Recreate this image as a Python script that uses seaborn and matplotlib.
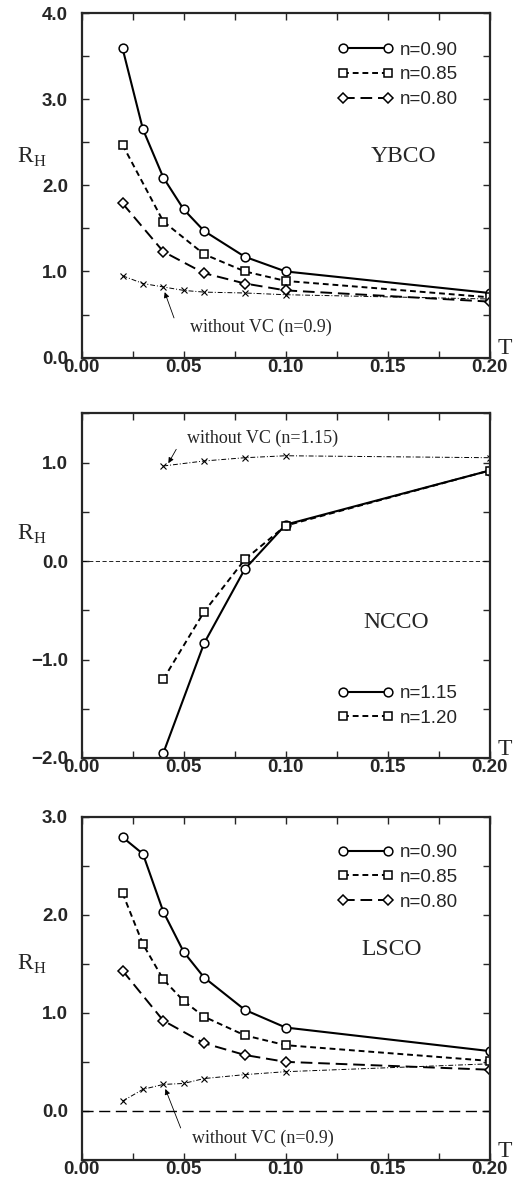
import numpy as np
import pandas as pd
import seaborn as sns
import matplotlib
matplotlib.use('Agg')
import matplotlib.pyplot as plt
from matplotlib.ticker import MultipleLocator, FuncFormatter

sns.set_style('ticks')
plt.rcParams['font.family'] = ['Liberation Sans', 'DejaVu Sans']

# YBCO
ybco_t8 = [0.02, 0.03, 0.04, 0.05, 0.06, 0.08, 0.10, 0.20]
ybco_t6 = [0.02, 0.04, 0.06, 0.08, 0.10, 0.20]
ybco_090 = [3.59, 2.65, 2.09, 1.72, 1.47, 1.17, 1.00, 0.75]
ybco_085 = [2.47, 1.58, 1.20, 1.00, 0.89, 0.70]
ybco_080 = [1.79, 1.23, 0.98, 0.86, 0.78, 0.65]
ybco_novc = [0.95, 0.86, 0.82, 0.78, 0.76, 0.75, 0.73, 0.68]

# NCCO
ncco_t = [0.04, 0.06, 0.08, 0.10, 0.20]
ncco_115 = [-1.95, -0.835, -0.08, 0.37, 0.92]
ncco_120 = [-1.20, -0.515, 0.017, 0.36, 0.92]
ncco_novc = [0.966, 1.017, 1.05, 1.07, 1.05]

# LSCO
lsco_t8 = [0.02, 0.03, 0.04, 0.05, 0.06, 0.08, 0.10, 0.20]
lsco_t6 = [0.02, 0.04, 0.06, 0.08, 0.10, 0.20]
lsco_090 = [2.79, 2.62, 2.03, 1.62, 1.36, 1.03, 0.85, 0.61]
lsco_085 = [2.22, 1.70, 1.34, 1.12, 0.96, 0.77, 0.67, 0.51]
lsco_080 = [1.43, 0.92, 0.69, 0.57, 0.50, 0.42]
lsco_novc = [0.10, 0.22, 0.27, 0.28, 0.33, 0.37, 0.40, 0.48]

fig = plt.figure(figsize=(5.31, 11.88), dpi=100)
ax1 = fig.add_axes([0.154, 0.699, 0.768, 0.290])
ax2 = fig.add_axes([0.154, 0.362, 0.768, 0.290])
ax3 = fig.add_axes([0.154, 0.0236, 0.768, 0.289])

styles = {
    'o': dict(marker='o', linestyle='-', lw=1.5, ms=6.3),
    's': dict(marker='s', linestyle=(0, (3, 2)), lw=1.4, ms=5.5),
    'D': dict(marker='D', linestyle=(0, (6, 3)), lw=1.4, ms=4.8),
    'x': dict(marker='x', linestyle=(0, (5, 2, 1, 2)), lw=0.7, ms=5),
}


def draw(ax, t, r, kind, label=None):
    st = styles[kind]
    sns.lineplot(x=t, y=r, ax=ax, color='black', marker=st['marker'],
                 linestyle=st['linestyle'], linewidth=st['lw'],
                 markersize=st['ms'], markerfacecolor='white',
                 markeredgecolor='black', markeredgewidth=1.1 if kind != 'x' else 0.8,
                 label=label, sort=False, errorbar=None)


def yfmt(v, pos):
    return ('%.1f' % v).replace('-', '\u2212')


def style_axes(ax, ylo, yhi, ylab_y, name, name_xy):
    ax.set_xlim(0, 0.2)
    ax.set_ylim(ylo, yhi)
    ax.xaxis.set_major_locator(MultipleLocator(0.05))
    ax.xaxis.set_minor_locator(MultipleLocator(0.025))
    ax.yaxis.set_major_locator(MultipleLocator(1.0))
    ax.yaxis.set_minor_locator(MultipleLocator(0.5))
    ax.xaxis.set_major_formatter(FuncFormatter(lambda v, p: '%.2f' % v))
    ax.yaxis.set_major_formatter(FuncFormatter(yfmt))
    ax.tick_params(which='both', direction='in', top=True, right=True,
                   length=5, width=1.0, labelsize=13.5)
    ax.tick_params(axis='x', pad=1)
    ax.tick_params(axis='y', pad=10)
    for lab in ax.get_xticklabels() + ax.get_yticklabels():
        lab.set_fontweight('bold')
    for s in ax.spines.values():
        s.set_linewidth(1.6)
    ax.set_xlabel('')
    ax.set_ylabel('')
    ax.text(-0.16, ylab_y, r'R$_\mathregular{H}$', transform=ax.transAxes,
            fontsize=17, family='Liberation Serif',
            ha='left', va='center')
    ax.text(1.02, 0.025, 'T', transform=ax.transAxes, fontsize=17,
            family='Liberation Serif', ha='left', va='center')
    ax.text(name_xy[0], name_xy[1], name, fontsize=17, family='Liberation Serif',
            ha='center', va='center')


# panel 1
draw(ax1, ybco_t8, ybco_novc, 'x')
draw(ax1, ybco_t8, ybco_090, 'o', 'n=0.90')
draw(ax1, ybco_t6, ybco_085, 's', 'n=0.85')
draw(ax1, ybco_t6, ybco_080, 'D', 'n=0.80')
style_axes(ax1, 0, 4, 0.58, 'YBCO', (0.158, 2.34))
ax1.annotate('', xy=(0.0402, 0.79), xytext=(0.0457, 0.43),
             arrowprops=dict(arrowstyle='-|>', lw=0.6, color='black', mutation_scale=8))
ax1.text(0.053, 0.35, 'without VC (n=0.9)', fontsize=13,
         family='Liberation Serif', ha='left', va='center')

# panel 2
ax2.axhline(0, color='black', lw=0.6, linestyle=(0, (5, 3)))
draw(ax2, ncco_t, ncco_novc, 'x')
draw(ax2, ncco_t, ncco_115, 'o', 'n=1.15')
draw(ax2, ncco_t, ncco_120, 's', 'n=1.20')
style_axes(ax2, -2, 1.5, 0.65, 'NCCO', (0.154, -0.62))
ax2.annotate('', xy=(0.0418, 0.97), xytext=(0.047, 1.16),
             arrowprops=dict(arrowstyle='-|>', lw=0.6, color='black', mutation_scale=8))
ax2.text(0.0514, 1.25, 'without VC (n=1.15)', fontsize=13,
         family='Liberation Serif', ha='left', va='center')

# panel 3
ax3.axhline(0, color='black', lw=1.0, linestyle=(0, (8, 4)))
draw(ax3, lsco_t8, lsco_novc, 'x')
draw(ax3, lsco_t8, lsco_090, 'o', 'n=0.90')
draw(ax3, lsco_t8, lsco_085, 's', 'n=0.85')
draw(ax3, lsco_t6, lsco_080, 'D', 'n=0.80')
style_axes(ax3, -0.5, 3, 0.57, 'LSCO', (0.152, 1.65))
ax3.annotate('', xy=(0.0405, 0.25), xytext=(0.049, -0.2),
             arrowprops=dict(arrowstyle='-|>', lw=0.6, color='black', mutation_scale=8))
ax3.text(0.054, -0.28, 'without VC (n=0.9)', fontsize=13,
         family='Liberation Serif', ha='left', va='center')

for ax, loc in [(ax1, (0.595, 0.955)), (ax2, (0.595, 0.25)), (ax3, (0.595, 0.958))]:
    handles, labels = ax.get_legend_handles_labels()
    ax.legend(handles, labels, loc='upper left', bbox_to_anchor=loc, frameon=False,
              numpoints=2, handlelength=3.0, handletextpad=0.3, labelspacing=0.4,
              fontsize=13.5, borderaxespad=0.3)

fig.savefig('out.png', dpi=100)
